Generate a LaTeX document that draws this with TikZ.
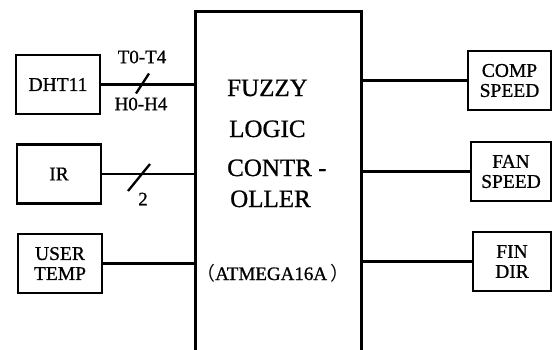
\documentclass[tikz,border=0pt]{standalone}
\usepackage{fontspec}
\setmainfont{Liberation Serif}[FakeBold=0.8]
\newfontfamily\cjk{Noto Sans CJK SC}
\usepackage{xcolor}
\tikzset{
    unit/.style={draw, line width=2.6pt, minimum width=84pt, minimum height=59pt,
                 inner sep=0pt, align=center, font=\fontsize{19.5}{20}\selectfont},
    ctrlbox/.style={draw, line width=2.6pt, minimum width=166pt, minimum height=380pt,
                 inner sep=0pt, anchor=north west},
    ctrltext/.style={anchor=base west, inner sep=0pt, font=\fontsize{25}{26}\selectfont},
    wire/.style={-, line width=2.3pt},
    slash/.style={-, line width=2.3pt},
    lbl/.style={inner sep=0pt, font=\fontsize{19}{20}\selectfont},
}
\begin{document}
\begin{tikzpicture}[x=1pt, y=-1pt]
    \useasboundingbox (0,0) rectangle (553,349);
    % controller
    \node[ctrlbox] (ctrl) at (194,10) {};
    \node[ctrltext] (fuzzy) at (227,96) {FUZZY};
    \node[ctrltext] (logic) at (229,137) {LOGIC};
    \node[ctrltext] (contr) at (227,176) {CONTR -};
    \node[ctrltext] (oller) at (230,207) {OLLER};
    \node[ctrltext, font=\fontsize{19}{20}\selectfont] (chip) at (196,280)
        {{\cjk （}ATMEGA16A\,{\cjk ）}};
    % inputs
    \node[unit] (dht)  at (58,84.5)  {DHT11};
    \node[unit] (ir)   at (59,174)   {IR};
    \node[unit] (user) at (60,263.5) {USER\\TEMP};
    % outputs
    \node[unit, minimum width=83pt] (comp) at (509.5,80.5)  {COMP\\SPEED};
    \node[unit, minimum width=80pt] (fan)  at (511,171.5) {FAN\\SPEED};
    \node[unit, minimum width=78pt] (fin)  at (512,261.5) {FIN\\DIR};
    \draw[wire] (dht)  -- (dht -| ctrl.west);
    \draw[wire] (ir)   -- (ir -| ctrl.west);
    \draw[wire] (user) -- (user -| ctrl.west);
    \draw[wire] (ctrl.east |- comp) -- (comp);
    \draw[wire] (ctrl.east |- fan)  -- (fan);
    \draw[wire] (ctrl.east |- fin)  -- (fin);
    % bus marks
    \coordinate (dhtbus) at (142,84.5);
    \coordinate (irbus) at (139,174);
    \draw[slash] (dhtbus) ++(-6,9) -- ++(13,-20);
    \draw[slash] (irbus) ++(-11,17) -- ++(22,-27);
    \node[lbl] (tlbl) at (142,57) {T0-T4};
    \node[lbl] (hlbl) at (141,104) {H0-H4};
    \node[lbl] (nlbl) at (143,199) {2};
\end{tikzpicture}
\end{document}
